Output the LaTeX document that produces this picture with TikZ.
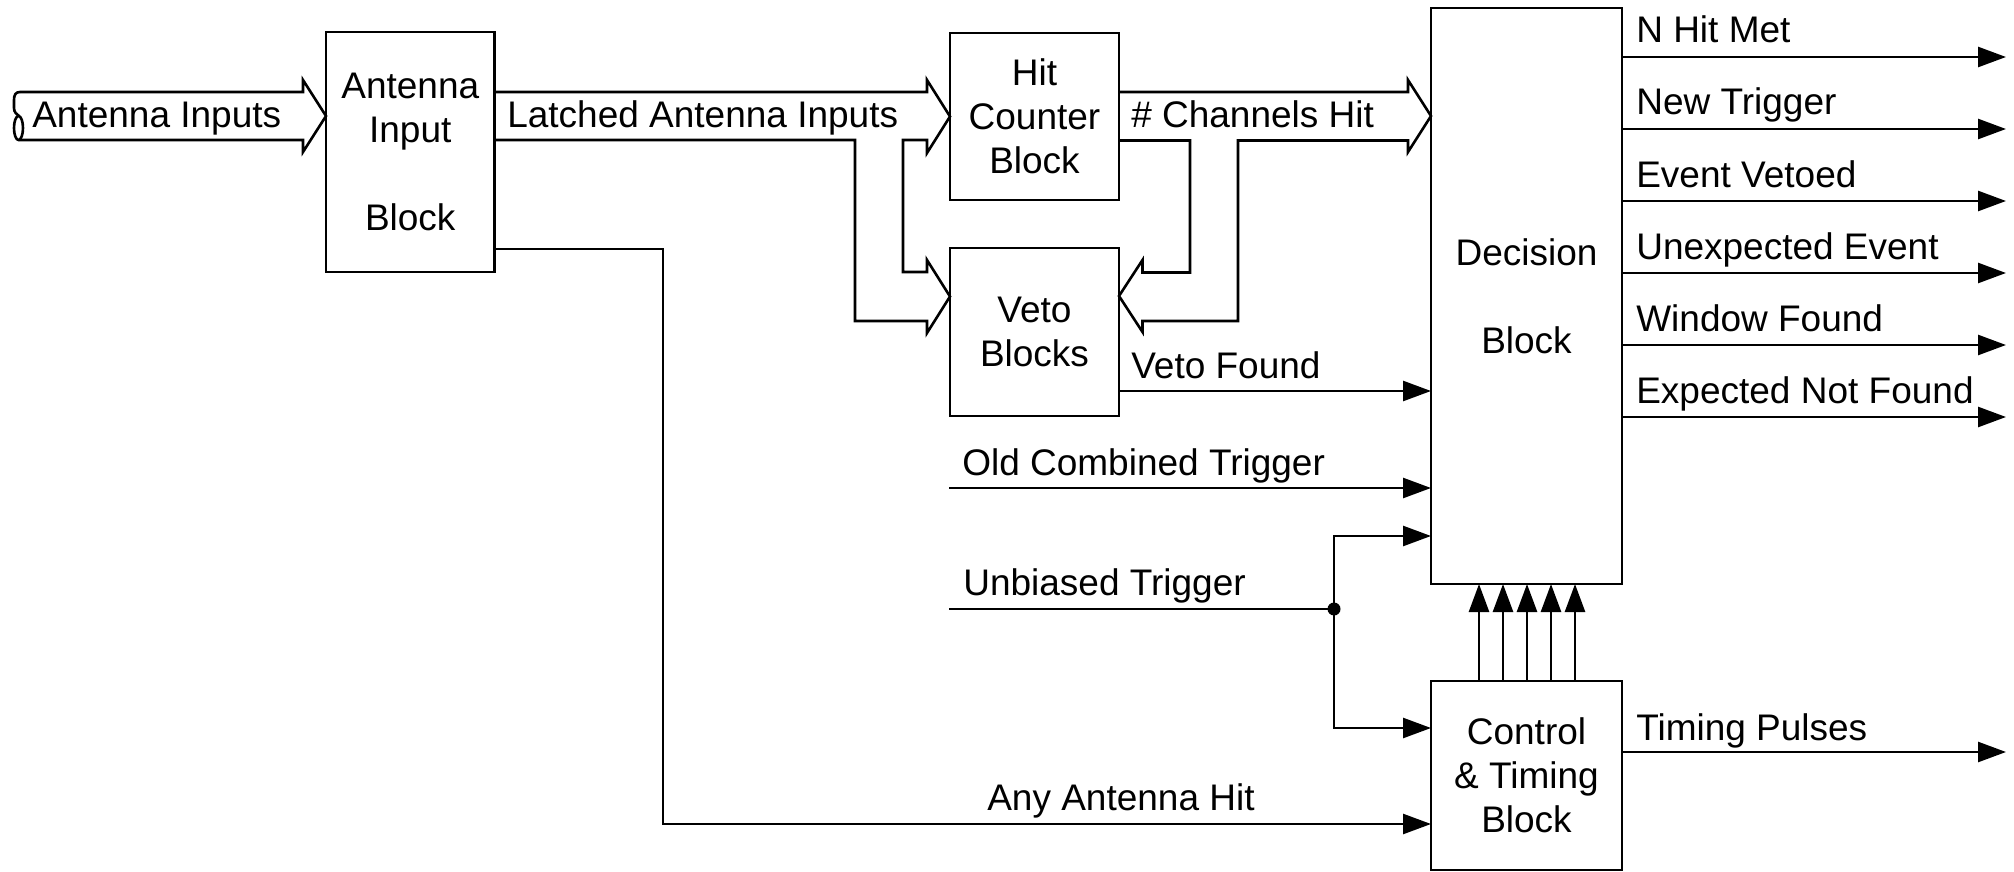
\documentclass[tikz,border=0pt]{standalone}
\usepackage{fontspec}
\setmainfont{Liberation Sans}
\usetikzlibrary{arrows.meta}
\begin{document}
\begin{tikzpicture}[x=0.5pt,y=-0.5pt, line width=1.3pt,
  blk/.style={draw, inner sep=0pt, outer sep=0pt, align=center, font=\fontsize{18.5}{22}\selectfont},
  lbl/.style={anchor=base west, inner sep=0pt, font=\fontsize{18.5}{22}\selectfont},
  arr/.style={-{Triangle[length=14pt,width=10pt]}},
  bus/.style={line join=miter}]
\useasboundingbox (0,0) rectangle (2014,872);
% blocks
\node[blk, minimum width=84.25pt, minimum height=120pt] (ain) at (410.25,152) {Antenna\\Input\\[22pt]Block};
\node[blk, minimum width=84.5pt, minimum height=83.5pt] (hit) at (1034.5,116.5) {Hit\\Counter\\Block};
\node[blk, minimum width=84.5pt, minimum height=84pt] (veto) at (1034.5,332) {Veto\\Blocks};
\node[blk, minimum width=95.5pt, minimum height=288pt] (dec) at (1526.5,296) {Decision\\[22pt]Block};
\node[blk, minimum width=95.5pt, minimum height=94.5pt] (ctl) at (1526.5,775.5) {Control\\\& Timing\\Block};
% antenna inputs bus
\draw[bus] (20,92) -- (303,92) -- (303,80) -- (ain.west |- 0,116) -- (303,152) -- (303,140) -- (19,140);
\draw (20,92) .. controls (15.5,92) and (14,95) .. (14,100) -- (14,108) .. controls (14,112) and (16.5,114.5) .. (19,116);
\draw (18.5,128) ellipse (2.25pt and 6pt);
\node[lbl] (tAI) at (31,127) {Antenna Inputs};
% latched antenna inputs bus (splits to hit counter and veto)
\draw[bus] (ain.east |- 0,92) -- (927,92) -- (927,80) -- (hit.west |- 0,116.5) -- (927,153) -- (927,140)
  -- (903,140) -- (903,272) -- (927,272) -- (927,260) -- (veto.west |- 0,296.5) -- (927,333) -- (927,321)
  -- (855,321) -- (855,140) -- (ain.east |- 0,140);
\node[lbl] (tLAI) at (506,127) {Latched Antenna Inputs};
% channels hit bus (to decision and veto)
\draw[bus] (hit.east |- 0,92) -- (1408,92) -- (1408,80) -- (dec.west |- 0,116) -- (1408,152) -- (1408,140.5)
  -- (1238,140.5) -- (1238,321) -- (1142.5,321) -- (1142.5,332) -- (veto.east |- 0,296) -- (1142.5,260)
  -- (1142.5,272.5) -- (1190,272.5) -- (1190,140.5) -- (hit.east |- 0,140.5);
\node[lbl] (tCH) at (1130,128) {\# Channels Hit};
% veto found
\draw[arr] (veto.east |- 0,391) -- (dec.west |- 0,391);
\node[lbl] (tVF) at (1130,378) {Veto Found};
% old combined trigger
\coordinate (oct) at (949,488);
\draw[arr] (oct) -- (dec.west |- oct);
\node[lbl] (tOCT) at (961,475) {Old Combined Trigger};
% unbiased trigger
\coordinate (ub) at (949,609);
\coordinate (j) at (1334,609);
\draw (ub) -- (j);
\draw[arr] (j) |- (dec.west |- 0,536);
\draw[arr] (j) |- (ctl.west |- 0,728);
\fill (j) circle (3.25pt);
\node[lbl] (tUT) at (962,595) {Unbiased Trigger};
% any antenna hit
\draw[arr] (ain.east |- 0,249) -- (663,249) -- (663,824) -- (ctl.west |- 0,824);
\node[lbl] (tAAH) at (986,810) {Any Antenna Hit};
% control to decision
\foreach \xx in {1479,1503,1527,1551,1575}
  \draw[arr] (ctl.north -| \xx,0) -- (dec.south -| \xx,0);
% decision outputs
\foreach \yy/\tt in {57/N Hit Met,129/New Trigger,201/Event Vetoed,273/Unexpected Event,345/Window Found,417/Expected Not Found}{
  \draw[arr] (dec.east |- 0,\yy) -- (2006,\yy);
  \node[lbl] at (1635,\yy-14) {\tt};
}
% timing pulses
\draw[arr] (ctl.east |- 0,752) -- (2006,752);
\node[lbl] (tTP) at (1635,740) {Timing Pulses};
\end{tikzpicture}
\end{document}
